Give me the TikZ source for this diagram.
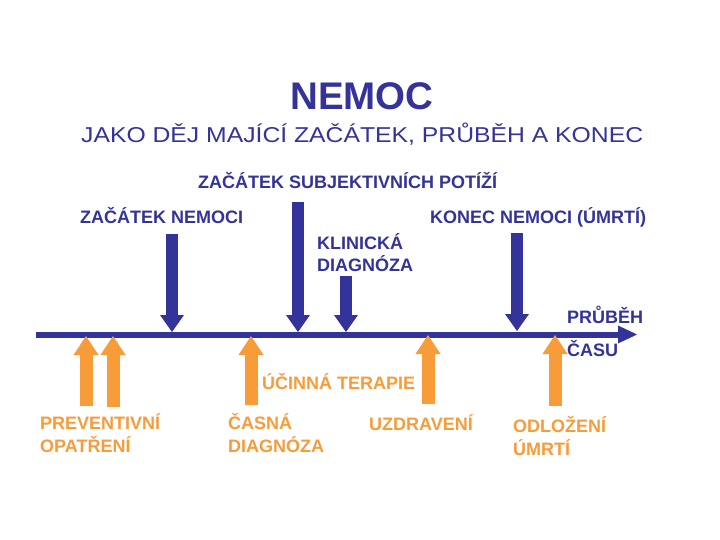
\documentclass[tikz,border=0pt]{standalone}
\usepackage{fontspec}
\setmainfont{Liberation Sans}
\usetikzlibrary{arrows.meta}
\definecolor{navy}{RGB}{51,51,153}
\definecolor{orng}{RGB}{248,156,58}
\tikzset{
  lab/.style={font=\fontsize{18bp}{22.5bp}\selectfont\bfseries, inner sep=0pt, anchor=base west, align=left},
  bluelab/.style={lab, text=navy},
  orlab/.style={lab, text=orng},
  blockarrow/.style={line width=12bp, line cap=butt, -{Triangle[width=24bp,length=17bp,line width=0pt]}},
  bluearrow/.style={blockarrow, draw=navy, fill=navy},
  orarrow/.style={line width=13bp, line cap=butt, draw=orng, fill=orng, -{Triangle[width=25bp,length=19bp,line width=0pt]}},
  timeline/.style={line width=6bp, draw=navy, fill=navy, line cap=butt, -{Triangle[width=18bp,length=19bp,line width=0pt]}}
}
\begin{document}
\begin{tikzpicture}[x=1bp,y=-1bp]
\useasboundingbox (0,0) rectangle (720,540);
\fill[white] (0,0) rectangle (720,540);
% titles
\node[inner sep=0pt, anchor=base, text=navy, font=\fontsize{38.5bp}{42bp}\selectfont\bfseries] (title) at (362,110) {NEMOC};
\node[inner sep=0pt, anchor=base west, text=navy, font=\fontsize{21.5bp}{25bp}\selectfont] (subtitle) at (81,143) {\scalebox{1.15}[1]{JAKO DĚJ MAJÍCÍ ZAČÁTEK, PRŮBĚH A KONEC}};
% blue labels
\node[bluelab] (lsubj) at (198,189) {ZAČÁTEK SUBJEKTIVNÍCH POTÍŽÍ};
\node[bluelab] (lzac) at (80,224) {ZAČÁTEK NEMOCI};
\node[bluelab] (lkonec) at (430,224) {KONEC NEMOCI (ÚMRTÍ)};
\node[bluelab] (lklin) at (317,272) {KLINICKÁ\\DIAGNÓZA};
\node[bluelab] (lprubeh) at (567,323) {PRŮBĚH};
\node[bluelab] (lcasu) at (567,356) {ČASU};
% orange labels
\node[orlab] (lterapie) at (262,389) {ÚČINNÁ TERAPIE};
\node[orlab] (lprev) at (40,452) {PREVENTIVNÍ\\OPATŘENÍ};
\node[orlab] (lcasna) at (228,452) {ČASNÁ\\DIAGNÓZA};
\node[orlab] (luzdrav) at (369,430) {UZDRAVENÍ};
\node[orlab] (lodloz) at (513,455) {ODLOŽENÍ\\ÚMRTÍ};
% timeline
\coordinate (tl0) at (36,334.5);
\coordinate (tl1) at (637,334.5);
\draw[timeline] (tl0) -- (tl1);
% blue arrows
\coordinate (b1s) at (172,234); \coordinate (b1e) at (172,332);
\coordinate (b2s) at (298,202); \coordinate (b2e) at (298,332);
\coordinate (b3s) at (346,276); \coordinate (b3e) at (346,332);
\coordinate (b4s) at (517,233); \coordinate (b4e) at (517,331);
\draw[bluearrow] (b1s) -- (b1e);
\draw[bluearrow] (b2s) -- (b2e);
\draw[bluearrow] (b3s) -- (b3e);
\draw[bluearrow] (b4s) -- (b4e);
% orange arrows
\coordinate (o1s) at (86,406); \coordinate (o1e) at (86,336);
\coordinate (o2s) at (113,407); \coordinate (o2e) at (113,336);
\coordinate (o3s) at (251,405); \coordinate (o3e) at (251,336);
\coordinate (o4s) at (428,404); \coordinate (o4e) at (428,335);
\coordinate (o5s) at (555,406); \coordinate (o5e) at (555,335);
\draw[orarrow] (o1s) -- (o1e);
\draw[orarrow] (o2s) -- (o2e);
\draw[orarrow] (o3s) -- (o3e);
\draw[orarrow] (o4s) -- (o4e);
\draw[orarrow] (o5s) -- (o5e);
\end{tikzpicture}
\end{document}
